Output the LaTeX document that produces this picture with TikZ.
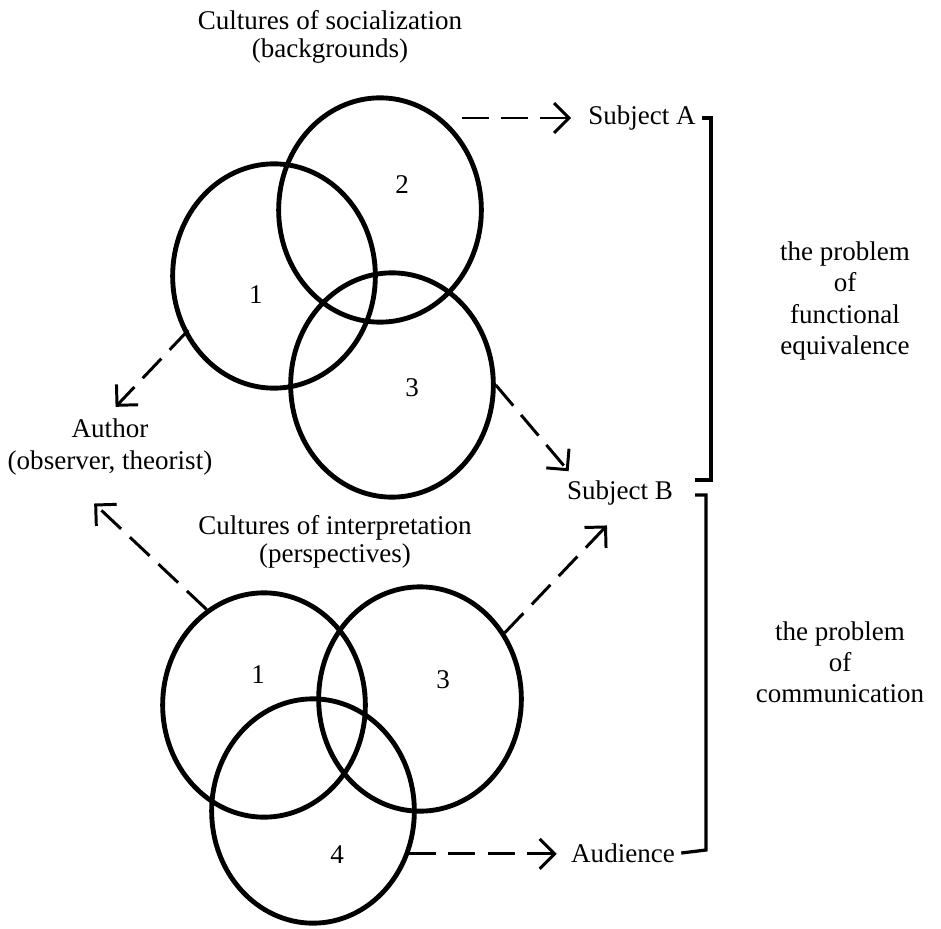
\documentclass[tikz,border=0pt]{standalone}
\usepackage{fontspec}
\setmainfont{Liberation Serif}
\usepackage{tikz}
\usetikzlibrary{shapes.geometric, arrows.meta}
\usetikzlibrary{calc}
\tikzset{
every picture/.style={line width=0.8pt, >={Straight Barb[length=5.5pt,width=11pt]}},
%%%%%%%%%%  Node styles
venn_circle/.style={ellipse, draw, line width=1.8pt, inner sep=0pt,
                    minimum width=75pt, minimum height=83pt},
region_label/.style={inner sep=1pt, font=\fontsize{10}{10}\selectfont},
caption/.style={align=center, inner sep=2pt,
                font=\fontsize{10}{10.5}\selectfont},
side_text/.style={align=center, inner sep=2pt,
                  font=\fontsize{10}{11.5}\selectfont},
target/.style={inner sep=2pt},
%%%% different line styles:
dash_arrow/.style={->, line width=1.1pt, dash pattern=on 10pt off 4.5pt},
bracket_line/.style={line width=1.2pt}
}

\begin{document}
\begin{tikzpicture}[x=0.37pt, y=-0.37pt]
\useasboundingbox (0,0) rectangle (941,928);
%% cultures of socialization
\node[caption] (title_soc) at (330,37) {Cultures of socialization\\(backgrounds)};
\node[venn_circle] (s1) at (274,276) {};
\node[venn_circle] (s2) at (380,210) {};
\node[venn_circle] (s3) at (392,385) {};
\node[region_label] (n_s1) at (256,295) {1};
\node[region_label] (n_s2) at (402,185) {2};
\node[region_label] (n_s3) at (412,388) {3};
%%%%%%%%%%%%%%%%%%%%%%%%%%%%%%%%%%%%%%%%%%%%%%
%% cultures of interpretation
\node[caption] (title_int) at (335,542) {Cultures of interpretation\\(perspectives)};
\node[venn_circle] (p1) at (264,705) {};
\node[venn_circle] (p3) at (420,699) {};
\node[venn_circle] (p4) at (313,811) {};
\node[region_label] (n_p1) at (258,675) {1};
\node[region_label] (n_p3) at (443,680) {3};
\node[region_label] (n_p4) at (337,855) {4};
%%%%%%%%%%%%%%%%%%%%%%%%%%%%%%%%%%%%%%%%%%%%%%
%% persons
\node[side_text] (author) at (110,447) {Author\\(observer, theorist)};
\node[target] (subA) at (642,118) {Subject A};
\node[target] (subB) at (620,493) {Subject B};
\node[target] (aud) at (623,853) {Audience};
\coordinate (tail_A) at (462,118);
%% dashed arrows
\draw[dash_arrow, shorten >=4pt] (tail_A) -- (subA.west);
\draw[dash_arrow, shorten <=-2pt, shorten >=3pt] (s1.213) -- (author.north);
\draw[dash_arrow] (s3.east) -- ($(subB.north west)+(8,-3)$);
\draw[dash_arrow, shorten >=12pt] (p1.121) -- (author.221);
\draw[dash_arrow, shorten >=7pt] (p3.38) -- (subB.south);
\draw[dash_arrow, shorten >=3pt] (p4.-24) -- (p4.-24 -| aud.west);
%%%%%%%%%%%%%%%%%%%%%%%%%%%%%%%%%%%%%%%%%%%%%%
%% brackets
\draw[bracket_line] (subA.east) -| (711,480) -- ++(-16,0);
\draw[bracket_line] (695,495) -| (706,850) -- (aud.east);
\node[side_text] (prob_fe) at (845,301) {the problem\\of\\functional\\equivalence};
\node[side_text] (prob_com) at (840,662) {the problem\\of\\communication};
\end{tikzpicture}
\end{document}
